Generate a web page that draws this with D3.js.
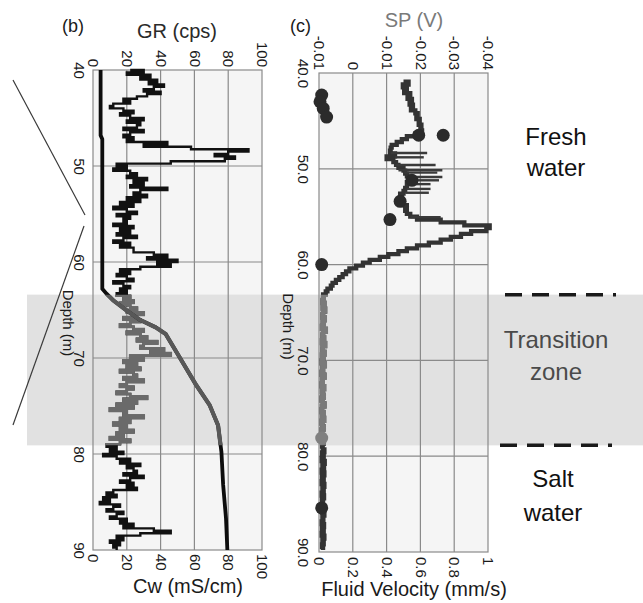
<!DOCTYPE html>
<html>
<head>
<meta charset="utf-8">
<script src="https://cdn.jsdelivr.net/npm/d3@7"></script>
<style>
  body { margin: 0; background: #fff; }
  svg text { font-family: "Liberation Sans", Arial, sans-serif; }
</style>
</head>
<body>
<div id="chart"></div>
<script>
/**
 * Data
 */
// depth ticks (m)
var depthTicks = [40, 50, 60, 70, 80, 90];
// GR / Cw ticks
var grTicks = [0, 20, 40, 60, 80, 100];
// SP ticks and the labels printed on top of panel (c)
var spTicks = [0.01, 0, -0.01, -0.02, -0.03, -0.04];
var spLabels = ["-0.01", "0", "-0.01", "-0.02", "-0.03", "-0.04"];
// fluid velocity ticks
var velTicks = [0, 0.2, 0.4, 0.6, 0.8, 1];
var velLabels = ["0", "0.2", "0.4", "0.6", "0.8", "1"];

// transition zone (m)
var zoneTop = 63.4;
var zoneBottom = 79.1;

// GR (cps), sampled every 0.25 m from 40 m
var grStart = 40;
var grStep = 0.25;
var grValues = [
  22, 30, 20, 34,   28, 38, 33, 42,   36, 30, 40, 32,   26, 18, 22, 12,
  10, 18, 24, 16,   22, 30, 20, 28,   26, 18, 30, 22,   18, 24, 20, 44,
  30, 58, 92, 80,   72, 84, 78, 46,   14, 20, 12, 22,   26, 20, 32, 24,
  30, 22, 44, 28,   24, 32, 20, 28,   16, 24, 12, 20,   26, 14, 22, 18,
  20, 12, 24, 16,   22, 14, 26, 18,   12, 22, 16, 24,   24, 36, 44, 32,
  50, 38, 46, 28,   16, 22, 14, 20,   24, 12, 18, 22,   16, 20, 14, 22,
  18, 24, 16, 22,   26, 20, 30, 24,   18, 28, 22, 16,   24, 30, 20, 28,
  32, 26, 38, 30,   28, 42, 34, 46,   22, 30, 18, 26,   20, 28, 16, 24,
  26, 18, 30, 20,   16, 24, 20, 14,   22, 32, 18, 26,   14, 24, 10, 20,
  18, 30, 16, 22,   12, 20, 16, 24,   14, 18, 10, 22,   16, 8, 14, 10,
  18, 6, 14, 22,    16, 28, 20, 24,   26, 18, 30, 22,   16, 24, 20, 26,
  12, 8, 14, 6,     10, 4, 16, 12,    8, 18, 14, 10,    20, 16, 24, 18,
  36, 46, 28, 14,   18, 10, 16, 12,   14
];

// Cw (mS/cm)
var cwDepth = [40, 46.8, 47.2, 62.8, 63.3, 64.0, 65.0, 66.0, 66.8, 67.5, 70, 72.8, 74.9, 77, 79.8, 83.2, 86.7, 90];
var cwValue = [4.5, 4.5, 5.5, 5.5, 8, 12, 19.5, 27.5, 37, 43, 51.5, 61, 69, 74, 76, 77, 78.7, 79.5];

// SP (V), sampled every 0.3 m from 40.9 m
var spStart = 40.9;
var spStep = 0.3;
var spValues = [
  -0.0150, -0.0165, -0.0148, -0.0160, -0.0152, -0.0170, -0.0162, -0.0175, -0.0168, -0.0178,
  -0.0172, -0.0185, -0.0192, -0.0188, -0.0198, -0.0195, -0.0203, -0.0200, -0.0205, -0.0185,
  -0.0160, -0.0145, -0.0130, -0.0115, -0.0112, -0.0110, -0.0125, -0.0100, -0.0120, -0.0128,
  -0.0135, -0.0150, -0.0155, -0.0160, -0.0165, -0.0165, -0.0160, -0.0160, -0.0155, -0.0150,
  -0.0140, -0.0145, -0.0135, -0.0150, -0.0160, -0.0155, -0.0160, -0.0170, -0.0190, -0.0260,
  -0.0330, -0.0405, -0.0395, -0.0350, -0.0320, -0.0290, -0.0260, -0.0225, -0.0190, -0.0160,
  -0.0135, -0.0105, -0.0080, -0.0050, -0.0030, -0.0010, 0.0010, 0.0020, 0.0030, 0.0040,
  0.0050, 0.0060, 0.0065, 0.0075, 0.0080, 0.0088,
  0.0086, 0.0090, 0.0084, 0.0089, 0.0082, 0.0088, 0.0090, 0.0083, 0.0089, 0.0086,
  0.0091, 0.0080, 0.0088, 0.0090, 0.0085, 0.0091, 0.0082, 0.0089, 0.0090, 0.0084,
  0.0091, 0.0087, 0.0092, 0.0083, 0.0090, 0.0088, 0.0092, 0.0084, 0.0091, 0.0089,
  0.0092, 0.0085, 0.0091, 0.0090, 0.0086, 0.0092, 0.0089, 0.0084, 0.0091, 0.0092,
  0.0087, 0.0091, 0.0085, 0.0092, 0.0090, 0.0086, 0.0092, 0.0091, 0.0088, 0.0092,
  0.0086, 0.0091, 0.0089, 0.0084, 0.0091, 0.0086, 0.0092, 0.0083, 0.0090, 0.0085,
  0.0092, 0.0084, 0.0091, 0.0086, 0.0092, 0.0084, 0.0090, 0.0086, 0.0092, 0.0085,
  0.0091, 0.0088, 0.0092, 0.0086, 0.0091, 0.0084, 0.0090, 0.0087, 0.0092, 0.0085,
  0.0091, 0.0086, 0.0092, 0.0084, 0.0090, 0.0086, 0.0091, 0.0088
];
// thin SP spikes
var spikeDepth = [48.35, 48.8, 49.6, 50.15, 50.4, 50.85, 51.2, 51.6, 52.1, 52.5, 55.05];
var spikeValue = [-0.0220, -0.0210, -0.0245, -0.0265, -0.0250, -0.0265, -0.0255, -0.0230, -0.0230, -0.0225, -0.0260];

// Fluid velocity (mm/s) points
var velDepth = [42.3, 43.0, 43.7, 44.6, 46.5, 46.5, 51.2, 53.4, 55.3, 60.0, 78.1, 85.4];
var velValue = [0.016, 0.006, 0.025, 0.045, 0.59, 0.735, 0.55, 0.48, 0.42, 0.016, 0.016, 0.016];

/**
 * Layout
 */
var svgWidth = 643;
var svgHeight = 603;
// plot boxes for panel (b) and panel (c)
var boxB = {left: 93, right: 262, top: 70, bottom: 550};
var boxC = {left: 319, right: 488, top: 73, bottom: 552};

var svg = d3.select("#chart")
  .append("svg")
  .attr("width", svgWidth)
  .attr("height", svgHeight);

// scales
var yB = d3.scaleLinear().domain([40, 90]).range([boxB.top, boxB.bottom]);
var xB = d3.scaleLinear().domain([0, 100]).range([boxB.left, boxB.right]);
var yC = d3.scaleLinear().domain([40, 90]).range([boxC.top, boxC.bottom]);
var xSP = d3.scaleLinear().domain([0.01, -0.04]).range([boxC.left, boxC.right]);
var xVel = d3.scaleLinear().domain([0, 1]).range([boxC.left, boxC.right]);

var zoneY0 = yB(zoneTop);
var zoneY1 = yB(zoneBottom);

// panel backgrounds
[boxB, boxC].forEach(b => {
  svg.append("rect")
    .attr("x", b.left).attr("y", b.top)
    .attr("width", b.right - b.left).attr("height", b.bottom - b.top)
    .attr("fill", "#f5f5f5");
});

// transition zone band
svg.append("rect")
  .attr("x", 27).attr("y", zoneY0)
  .attr("width", svgWidth - 27).attr("height", zoneY1 - zoneY0)
  .attr("fill", "#e1e1e1");

// clip path used to draw the transition part in gray
svg.append("clipPath").attr("id", "zoneClip")
  .append("rect")
  .attr("x", 0).attr("y", zoneY0)
  .attr("width", svgWidth).attr("height", zoneY1 - zoneY0);

/**
 * draw gridlines and frame of a panel
 */
function drawGrid(b, xs, xt, ys) {
  var g = svg.append("g");
  g.selectAll(".vgrid").data(xt.slice(1, -1)).enter().append("line")
    .attr("x1", d => xs(d)).attr("x2", d => xs(d))
    .attr("y1", b.top).attr("y2", b.bottom)
    .attr("stroke", "#8a8a8a").attr("stroke-width", 1.2);
  g.selectAll(".hgrid").data(depthTicks.slice(1, -1)).enter().append("line")
    .attr("x1", b.left).attr("x2", b.right)
    .attr("y1", d => ys(d)).attr("y2", d => ys(d))
    .attr("stroke", "#8a8a8a").attr("stroke-width", 1.2);
  g.append("rect")
    .attr("x", b.left).attr("y", b.top)
    .attr("width", b.right - b.left).attr("height", b.bottom - b.top)
    .attr("fill", "none").attr("stroke", "#8a8a8a").attr("stroke-width", 1.2);
}

drawGrid(boxB, xB, grTicks, yB);
drawGrid(boxC, xSP, spTicks, yC);

/**
 * axes with text rotated 90 degrees (reading downward)
 */
function styleAxis(g) {
  g.select(".domain").remove();
  g.selectAll("line").remove();
  g.selectAll("text")
    .attr("fill", "#1a1a1a")
    .attr("font-size", 15)
    .attr("transform", "rotate(90)");
}

// panel (b)
var axTopB = svg.append("g").attr("transform", `translate(0,${boxB.top})`)
  .call(d3.axisTop(xB).tickValues(grTicks).tickSize(0));
styleAxis(axTopB);
axTopB.selectAll("text").attr("x", -3).attr("y", 0).attr("dy", "0.35em").attr("text-anchor", "end");

var axBotB = svg.append("g").attr("transform", `translate(0,${boxB.bottom})`)
  .call(d3.axisBottom(xB).tickValues(grTicks).tickSize(0));
styleAxis(axBotB);
axBotB.selectAll("text").attr("x", 4).attr("y", 0).attr("dy", "0.35em").attr("text-anchor", "start");

var axLeftB = svg.append("g").attr("transform", `translate(${boxB.left},0)`)
  .call(d3.axisLeft(yB).tickValues(depthTicks).tickSize(0));
styleAxis(axLeftB);
axLeftB.selectAll("text").attr("x", 0).attr("y", 19.5).attr("dy", 0).attr("text-anchor", "middle");

// panel (c)
var axTopC = svg.append("g").attr("transform", `translate(0,${boxC.top})`)
  .call(d3.axisTop(xSP).tickValues(spTicks).tickSize(0).tickFormat((d, i) => spLabels[i]));
styleAxis(axTopC);
axTopC.selectAll("text").attr("x", -3).attr("y", 0).attr("dy", "0.35em").attr("text-anchor", "end");

var axBotC = svg.append("g").attr("transform", `translate(0,${boxC.bottom})`)
  .call(d3.axisBottom(xVel).tickValues(velTicks).tickSize(0).tickFormat((d, i) => velLabels[i]));
styleAxis(axBotC);
axBotC.selectAll("text").attr("x", 5).attr("y", 0).attr("dy", "0.35em").attr("text-anchor", "start");

var axLeftC = svg.append("g").attr("transform", `translate(${boxC.left},0)`)
  .call(d3.axisLeft(yC).tickValues(depthTicks).tickSize(0).tickFormat(d3.format(".1f")));
styleAxis(axLeftC);
axLeftC.selectAll("text").attr("x", 0).attr("y", 21.5).attr("dy", 0).attr("text-anchor", "middle");

/**
 * draw a log curve twice: dark everywhere, gray inside the transition zone
 */
function drawLog(points, line, dark, gray, width) {
  svg.append("path").datum(points)
    .attr("d", line).attr("fill", "none")
    .attr("stroke", dark).attr("stroke-width", width);
  svg.append("path").datum(points)
    .attr("d", line).attr("fill", "none")
    .attr("clip-path", "url(#zoneClip)")
    .attr("stroke", gray).attr("stroke-width", width + 0.3);
}

// GR trace (stepped log)
var grPoints = grValues.map((v, i) => ({d: grStart + i * grStep, v: v}));
var grLine = d3.line().x(p => xB(p.v)).y(p => yB(p.d)).curve(d3.curveStepAfter);
drawLog(grPoints, grLine, "#111", "#6a6a6a", 2.4);

// Cw curve
var cwPoints = cwDepth.map((d, i) => ({d: d, v: cwValue[i]}));
var cwLine = d3.line().x(p => xB(p.v)).y(p => yB(p.d));
drawLog(cwPoints, cwLine, "#0d0d0d", "#585858", 3.8);

// SP trace (stepped body)
var spPoints = spValues.map((v, i) => ({d: spStart + i * spStep, v: v}));
var spLine = d3.line().x(p => xSP(p.v)).y(p => yC(p.d)).curve(d3.curveStepAfter);
drawLog(spPoints, spLine, "#333", "#7a7a7a", 4.3);

// SP spikes: thin lines from the body out to the spike value
var bisectDepth = d3.bisector(p => p.d).right;
svg.append("g").selectAll("line")
  .data(spikeDepth.map((d, i) => ({d: d, v: spikeValue[i]})))
  .enter().append("line")
  .attr("x1", p => xSP(spPoints[Math.max(0, bisectDepth(spPoints, p.d) - 1)].v))
  .attr("x2", p => xSP(p.v))
  .attr("y1", p => yC(p.d)).attr("y2", p => yC(p.d))
  .attr("stroke", "#3a3a3a").attr("stroke-width", 2.4);

// fluid velocity points
svg.append("g").selectAll("circle")
  .data(velDepth.map((d, i) => ({d: d, v: velValue[i]})))
  .enter().append("circle")
  .attr("cx", p => xVel(p.v))
  .attr("cy", p => yC(p.d))
  .attr("r", 6.5)
  .attr("fill", p => (p.d > zoneTop && p.d < zoneBottom) ? "#808080" : "#2b2b2b");

/**
 * Titles and annotations
 */
function addText(x, y, txt, size, color, anchor) {
  svg.append("text")
    .attr("x", x).attr("y", y)
    .attr("font-size", size)
    .attr("fill", color)
    .attr("text-anchor", anchor || "middle")
    .text(txt);
}

addText(62, 32, "(b)", 18, "#1a1a1a", "start");
addText(177, 38, "GR (cps)", 20, "#2a2a2a");
addText(290, 32, "(c)", 18, "#1a1a1a", "start");
addText(414, 27, "SP (V)", 20, "#7a7a7a");
addText(188, 593, "Cw (mS/cm)", 20, "#1a1a1a");
addText(414, 596, "Fluid Velocity (mm/s)", 20, "#1a1a1a");

// depth axis titles (rotated)
[[63, (boxB.top + boxB.bottom) / 2 + 13], [283, (boxC.top + boxC.bottom) / 2 + 14]].forEach(p => {
  svg.append("text")
    .attr("transform", `translate(${p[0]},${p[1]}) rotate(90)`)
    .attr("font-size", 15)
    .attr("fill", "#1a1a1a")
    .attr("text-anchor", "middle")
    .text("Depth (m)");
});

// zone labels
addText(556, 145, "Fresh", 24, "#111");
addText(556, 176, "water", 24, "#111");
addText(556, 348, "Transition", 24, "#4a4a4a");
addText(556, 380, "zone", 24, "#4a4a4a");
addText(553, 487, "Salt", 24, "#111");
addText(553, 521, "water", 24, "#111");

// dashed zone boundaries
[[505, 616, zoneY0], [500, 612, zoneY1]].forEach(p => {
  svg.append("line")
    .attr("x1", p[0]).attr("x2", p[1]).attr("y1", p[2]).attr("y2", p[2])
    .attr("stroke", "#1a1a1a").attr("stroke-width", 3.5)
    .attr("stroke-dasharray", "17,10");
});

// connector lines from the left panel
[[13, 80, 85, 215], [84, 226, 13, 425]].forEach(p => {
  svg.append("line")
    .attr("x1", p[0]).attr("y1", p[1]).attr("x2", p[2]).attr("y2", p[3])
    .attr("stroke", "#3a3a3a").attr("stroke-width", 1.2);
});
</script>
</body>
</html>
